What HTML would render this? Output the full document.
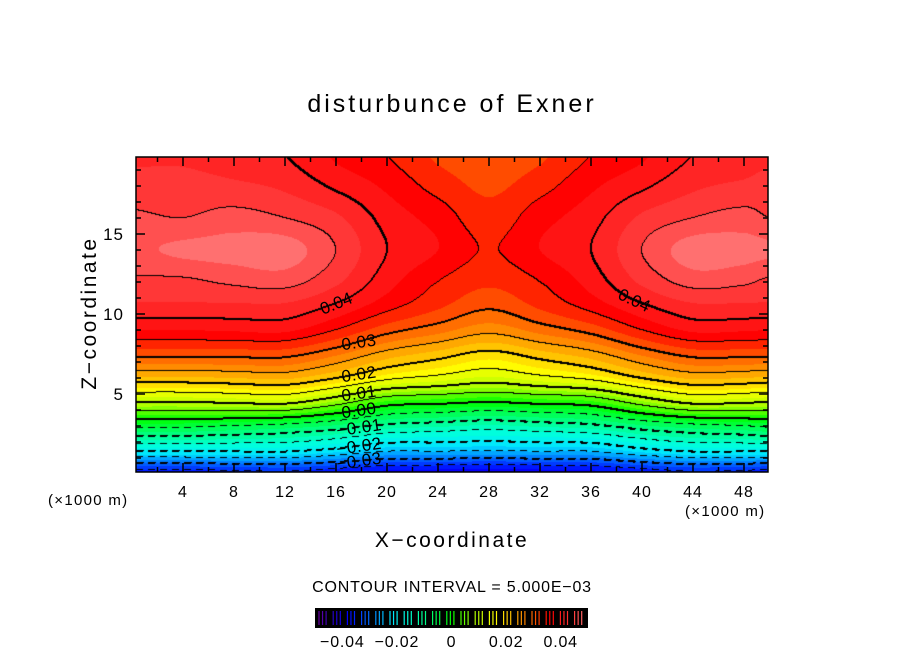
<!DOCTYPE html>
<html><head><meta charset="utf-8">
<style>
html,body{margin:0;padding:0;background:#fff;}
#wrap{position:relative;width:904px;height:654px;overflow:hidden;font-family:"Liberation Sans",sans-serif;}
#field{position:absolute;left:136px;top:157px;}
#ov{position:absolute;left:0;top:0;}
</style></head><body>
<div id="wrap">
<canvas id="field" width="632" height="315"></canvas>
<svg id="ov" width="904" height="654"></svg>
</div>
<script>
// ---- data (field values) ----
const xCols = [0,4,8,12,16,20,24,28,32,36,40,44,48,50];
const zRows = [0,1.5,3,4.5,6,7.5,9,10.5,12,14,16,18,20];
const p00 = [-0.037,-0.019,-0.004,0.010,0.022,0.031,0.0375,0.042,0.0445,0.047,0.0455,0.0435,0.042];
const p04 = [-0.037,-0.019,-0.004,0.010,0.022,0.031,0.0375,0.042,0.0445,0.048,0.045,0.0435,0.042];
const p08 = [-0.0365,-0.019,-0.005,0.0105,0.0225,0.031,0.0378,0.042,0.0455,0.0485,0.046,0.043,0.041];
const p12 = [-0.036,-0.019,-0.006,0.011,0.023,0.031,0.038,0.042,0.046,0.0488,0.045,0.042,0.040];
const p16 = [-0.0375,-0.021,-0.008,0.007,0.020,0.028,0.035,0.0395,0.043,0.045,0.043,0.0395,0.037];
const p20 = [-0.039,-0.024,-0.011,0.002,0.016,0.024,0.031,0.036,0.0385,0.040,0.039,0.037,0.035];
const p24 = [-0.0395,-0.024,-0.012,0.001,0.014,0.0215,0.0285,0.033,0.035,0.0375,0.0365,0.034,0.032];
const p28 = [-0.040,-0.0245,-0.013,0.000,0.012,0.019,0.026,0.0305,0.033,0.0348,0.0335,0.032,0.031];
const p32 = [-0.0395,-0.024,-0.012,0.001,0.014,0.0215,0.0285,0.033,0.035,0.0375,0.0365,0.034,0.032];
const p36 = [-0.039,-0.024,-0.011,0.002,0.016,0.024,0.031,0.036,0.0385,0.040,0.039,0.037,0.035];
const p40 = [-0.0375,-0.021,-0.008,0.007,0.020,0.028,0.035,0.0395,0.043,0.045,0.043,0.0395,0.037];
const p44 = [-0.036,-0.019,-0.006,0.011,0.023,0.031,0.038,0.042,0.046,0.0488,0.045,0.042,0.040];
const p48 = [-0.0365,-0.019,-0.005,0.0105,0.0225,0.031,0.0378,0.042,0.0455,0.0485,0.046,0.043,0.041];
const p50 = [-0.037,-0.019,-0.004,0.010,0.022,0.031,0.0375,0.042,0.0445,0.048,0.045,0.0435,0.042];
const xTickLabels = [4,8,12,16,20,24,28,32,36,40,44,48];
const zTickLabels = [5,10,15];
const cbarTickLabels = [-0.04,-0.02,0,0.02,0.04];
const cbarTickText = ["\u22120.04","\u22120.02","0","0.02","0.04"];
const labelLevels = [0.03,0.02,0.01,0.00,-0.01,-0.02,-0.03];
const labelText = ["0.03","0.02","0.01","0.00","\u22120.01","\u22120.02","\u22120.03"];

const grid = [p00,p04,p08,p12,p16,p20,p24,p28,p32,p36,p40,p44,p48,p50];
const STEP = 0.005;

// axis functions
const X = v => 132 + 12.75*v;
const Z = v => 474 - 16*v;
const Xinv = px => (px-132)/12.75;
const Zinv = py => (474-py)/16;

function seg(arr,v){let i=0;while(i<arr.length-2&&v>arr[i+1])i++;let t=(v-arr[i])/(arr[i+1]-arr[i]);t=Math.max(0,Math.min(1,t));return [i,t];}
function cr(p0,p1,p2,p3,t){return 0.5*((2*p1)+(-p0+p2)*t+(2*p0-5*p1+4*p2-p3)*t*t+(-p0+3*p1-3*p2+p3)*t*t*t);}
function gv(i,j){i=Math.max(0,Math.min(grid.length-1,i));j=Math.max(0,Math.min(zRows.length-1,j));return grid[i][j];}
function field(xv,zv){
  const [i,tx]=seg(xCols,xv);const [j,tz]=seg(zRows,zv);
  const col=[];
  for(let a=-1;a<=2;a++){col.push(cr(gv(i+a,j-1),gv(i+a,j),gv(i+a,j+1),gv(i+a,j+2),tz));}
  return cr(col[0],col[1],col[2],col[3],tx);
}
const cstops=[[-0.05,[128,0,160]],[-0.045,[50,0,180]],[-0.038,[0,0,255]],[-0.03,[0,110,255]],[-0.022,[0,230,255]],[-0.016,[0,255,220]],[-0.009,[0,255,130]],[0,[0,255,0]],[0.008,[170,255,0]],[0.016,[255,255,0]],[0.024,[255,165,0]],[0.03,[255,96,0]],[0.036,[255,0,0]],[0.045,[255,64,64]],[0.05,[255,128,128]]];
function cmap(v){
  if(v<=cstops[0][0])return cstops[0][1];
  for(let k=0;k<cstops.length-1;k++){const[a,ca]=cstops[k],[b,cb]=cstops[k+1];
    if(v<=b){const t=(v-a)/(b-a);return ca.map((c,m)=>Math.round(c+(cb[m]-c)*t));}}
  return cstops[cstops.length-1][1];
}

// draw field
const cv=document.getElementById('field');const ctx=cv.getContext('2d');
const W=632,H=315;const img=ctx.createImageData(W,H);
const V=new Float32Array(W*H);
for(let j=0;j<H;j++)for(let i=0;i<W;i++)V[j*W+i]=field(Xinv(136+i+0.5),Zinv(157+j+0.5));
const band=v=>Math.floor(v/STEP+1e-6);
for(let j=0;j<H;j++)for(let i=0;i<W;i++){
  const v=V[j*W+i];const q=(Math.floor(v/0.0025)+0.5)*0.0025;const c=cmap(q);
  const o=(j*W+i)*4;img.data[o]=c[0];img.data[o+1]=c[1];img.data[o+2]=c[2];img.data[o+3]=255;
}
function blk(i,j){if(i<0||j<0||i>=W||j>=H)return;const o=(j*W+i)*4;img.data[o]=0;img.data[o+1]=0;img.data[o+2]=0;}
for(let j=0;j<H;j++)for(let i=0;i<W;i++){
  const k=band(V[j*W+i]);
  const nb=[];if(i+1<W)nb.push(band(V[j*W+i+1]));if(j+1<H)nb.push(band(V[(j+1)*W+i]));
  for(const k2 of nb){if(k2!==k){const lev=Math.max(k,k2);const L=lev*STEP;
    if(L<-1e-6 && (i%12)>=7)continue;
    blk(i,j);if(lev%2===0){blk(i,j+1);blk(i+1,j);}break;}}
}
ctx.putImageData(img,0,0);

// overlay
const svg=document.getElementById('ov');const NS='http://www.w3.org/2000/svg';
function mk(tag,attrs,txt){const e=document.createElementNS(NS,tag);for(const k in attrs)e.setAttribute(k,attrs[k]);if(txt!==undefined)e.textContent=txt;svg.appendChild(e);return e;}
function zCross(xv,L,zlo,zhi){let best=zlo;for(let z=zlo;z<=zhi;z+=0.02){if((field(xv,z)-L)*(field(xv,z+0.02)-L)<=0){best=z;break;}}return best;}

labelLevels.forEach((L,n)=>{
  const xv=17.8;const zv=zCross(xv,L,0,12);
  const t=mk('text',{x:X(xv),y:Z(zv)+6,'font-size':17,'letter-spacing':0.5,'text-anchor':'middle',fill:'#000',transform:`rotate(-8 ${X(xv)} ${Z(zv)})`},labelText[n]);
  
  
});
{
  const zl=zCross(16,0.04,9,12);
  const t=mk('text',{x:X(16),y:Z(zl)+6,'font-size':17,'text-anchor':'middle',transform:`rotate(-22 ${X(16)} ${Z(zl)})`},'0.04');
  
  const zr=zCross(39.4,0.04,9,13);
  const t2=mk('text',{x:X(39.4),y:Z(zr)+6,'font-size':17,'text-anchor':'middle',transform:`rotate(25 ${X(39.4)} ${Z(zr)})`},'0.04');
  
}

const fr=mk('rect',{x:136,y:157,width:632,height:315,fill:'none',stroke:'#000','stroke-width':1.5});

for(let v=2;v<=49;v+=2){const major=v%4===0;const len=major?9:5;
  mk('line',{x1:X(v),x2:X(v),y1:472,y2:472-len,stroke:'#000','stroke-width':1.5});
  mk('line',{x1:X(v),x2:X(v),y1:157,y2:157+len,stroke:'#000','stroke-width':1.5});}
xTickLabels.forEach(v=>{const t=mk('text',{x:X(v),y:497,'font-size':16,'letter-spacing':1,'text-anchor':'middle'},String(v));
  });
for(let v=1;v<=19;v++){const major=v%5===0;const len=major?9:5;
  mk('line',{x1:136,x2:136+len,y1:Z(v),y2:Z(v),stroke:'#000','stroke-width':1.5});
  mk('line',{x1:768,x2:768-len,y1:Z(v),y2:Z(v),stroke:'#000','stroke-width':1.5});}
zTickLabels.forEach(v=>{const t=mk('text',{x:124,y:Z(v)+6,'font-size':17,'letter-spacing':1,'text-anchor':'end'},String(v));
  });

let e;
e=mk('text',{x:452,y:112,'font-size':25,'letter-spacing':3,'text-anchor':'middle'},'disturbunce of Exner');
e=mk('text',{x:452,y:547,'font-size':21,'letter-spacing':2.5,'text-anchor':'middle'},'X\u2212coordinate');
e=mk('text',{x:96,y:313,'font-size':21,'letter-spacing':2.5,'text-anchor':'middle',transform:'rotate(-90 96 313)'},'Z\u2212coordinate');
e=mk('text',{x:48,y:505,'font-size':15,'letter-spacing':1.3},'(\u00d71000 m)');
e=mk('text',{x:685,y:516,'font-size':15,'letter-spacing':1.3},'(\u00d71000 m)');
e=mk('text',{x:452,y:592,'font-size':16,'letter-spacing':0.8,'text-anchor':'middle'},'CONTOUR INTERVAL = 5.000E\u221203');

const CB0=315,CB1=588;const CBx=v=>CB0+(v+0.05)/0.1*(CB1-CB0);
function Xcb(px){return (px-CB0)/(CB1-CB0)*0.1-0.05;}
e=mk('rect',{x:CB0,y:608,width:CB1-CB0,height:20,fill:'#000'});
for(let n=0;n<76;n++){if(n%4===3)continue;const px=CB0+4+n*3.55;const v=Xcb(px);const c=cmap(v);
  mk('line',{x1:px,x2:px,y1:611,y2:625,stroke:`rgb(${c[0]},${c[1]},${c[2]})`,'stroke-width':1.2});}
cbarTickLabels.forEach((v,n)=>{const t=mk('text',{x:CBx(v),y:647,'font-size':16,'letter-spacing':0.8,'text-anchor':'middle'},cbarTickText[n]);
  });
</script>
</body></html>
